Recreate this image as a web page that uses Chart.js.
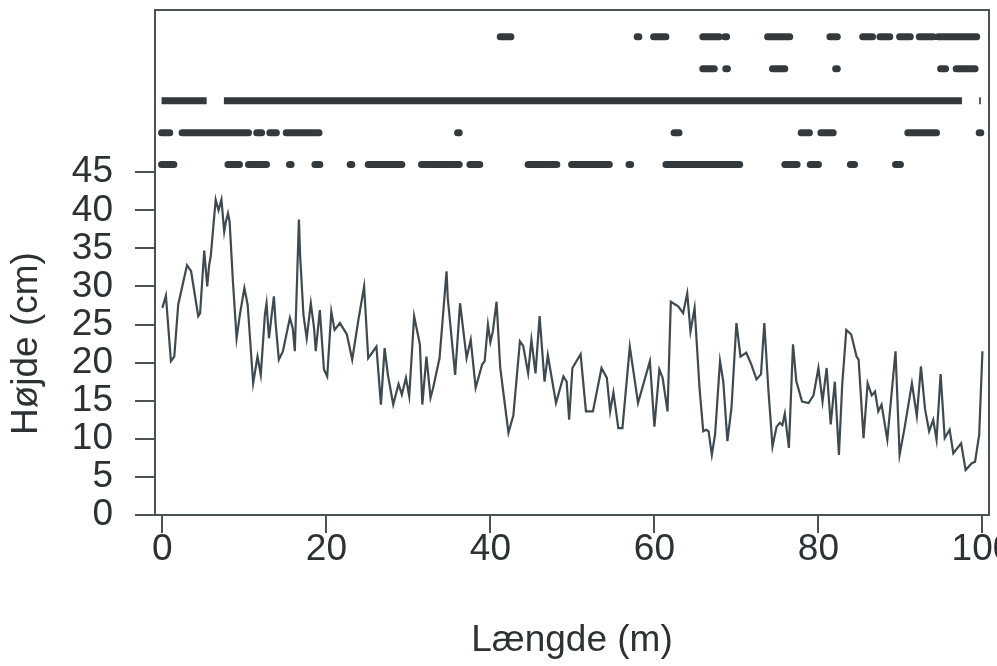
<!DOCTYPE html>
<html>
<head>
<meta charset="utf-8">
<script src="https://cdn.jsdelivr.net/npm/chart.js@4.4.1/dist/chart.umd.min.js"></script>
<style>
  html, body { margin: 0; padding: 0; background: #fff; }
  canvas { display: block; }
</style>
</head>
<body>
<canvas id="profile" width="997" height="666"></canvas>
<script>
// length along the transect (m) and measured height (cm)
const distance = [
  0.0, 0.43, 1.04, 1.45, 1.93, 3.0, 3.5, 4.37, 4.6, 5.1, 5.47, 5.7, 5.9, 6.5, 6.85, 7.2,
  7.54, 7.74, 8.0, 8.2, 8.6, 9.05, 9.45, 10.0, 10.4, 11.07, 11.6, 12.0, 12.5, 12.7, 13.0,
  13.3, 13.6, 13.8, 14.2, 14.7, 15.55, 15.9, 16.15, 16.65, 16.8, 17.2, 17.6, 18.1, 18.5,
  18.7, 19.2, 19.7, 20.1, 20.6, 21.0, 21.65, 22.5, 23.15, 23.9, 24.6, 25.1, 25.7, 26.1,
  26.65, 27.1, 27.5, 28.15, 28.8, 29.2, 29.7, 30.1, 30.7, 31.4, 31.7, 32.2, 32.7, 33.0,
  33.8, 34.65, 34.8, 35.7, 36.3, 37.1, 37.6, 38.2, 39.0, 39.3, 39.7, 40.0, 40.3, 40.75,
  41.2, 42.2, 42.8, 43.6, 44.0, 44.6, 45.0, 45.5, 46.0, 46.6, 47.0, 48.0, 48.9, 49.3,
  49.6, 50.0, 51.0, 51.65, 52.5, 53.55, 54.2, 54.6, 55.0, 55.6, 56.1, 57.0, 58.0, 59.45,
  60.0, 60.6, 61.0, 61.6, 62.0, 62.9, 63.5, 64.0, 64.4, 64.9, 65.5, 65.95, 66.3, 66.6,
  67.0, 67.4, 68.0, 68.4, 68.9, 69.4, 70.0, 70.5, 71.2, 71.8, 72.45, 73.0, 73.4, 73.9,
  74.4, 74.9, 75.3, 75.6, 75.9, 76.4, 76.9, 77.3, 78.0, 78.8, 79.4, 80.0, 80.5, 81.0,
  81.5, 82.0, 82.5, 82.9, 83.4, 84.0, 84.65, 84.9, 85.5, 86.0, 86.5, 86.9, 87.3, 87.7,
  88.4, 89.4, 89.9, 90.5, 91.4, 92.0, 92.5, 93.0, 93.5, 94.0, 94.4, 94.9, 95.4, 96.0,
  96.45, 97.4, 97.95, 98.7, 99.1, 99.6, 100.0
];
const height = [
  27.2, 28.8, 20.2, 20.8, 27.6, 32.8, 32.0, 26.1, 26.5, 34.7, 30.0, 32.8, 34.0, 41.4, 40.0, 41.4,
  37.2, 38.5, 39.6, 38.5, 30.7, 23.2, 26.3, 29.8, 27.6, 17.3, 20.8, 18.4, 26.3, 27.8, 23.2,
  26.0, 28.7, 25.3, 20.4, 21.5, 25.9, 24.5, 21.5, 38.8, 34.0, 26.3, 23.2, 27.8, 24.5,
  21.5, 26.9, 19.1, 18.2, 26.7, 24.3, 25.2, 23.7, 20.4, 25.6, 30.0, 20.6, 21.5, 22.1,
  14.5, 21.9, 18.4, 14.5, 17.2, 15.8, 18.0, 15.6, 26.1, 22.4, 14.5, 20.8, 15.4, 16.6,
  20.6, 32.0, 28.5, 18.4, 27.8, 20.6, 23.0, 16.7, 19.8, 20.2, 25.0, 22.7, 24.1, 28.0,
  19.3, 10.8, 13.1, 22.8, 22.2, 18.6, 23.0, 18.6, 26.1, 17.5, 21.0, 14.7, 18.2, 17.5,
  12.5, 19.3, 21.1, 13.6, 13.6, 19.3, 18.0, 13.6, 16.1, 11.4, 11.4, 22.1, 14.7, 20.2,
  11.6, 19.1, 18.0, 13.6, 28.0, 27.4, 26.5, 29.1, 24.1, 27.2, 16.7, 11.0, 11.2, 11.0,
  7.9, 10.6, 20.2, 17.5, 9.7, 14.1, 25.2, 20.8, 21.3, 19.8, 17.8, 18.5, 25.2, 16.4,
  9.0, 11.6, 12.1, 11.8, 13.3, 8.8, 22.4, 17.6, 14.9, 14.7, 15.7, 19.3, 14.9, 19.3,
  11.9, 17.5, 7.9, 17.1, 24.3, 23.7, 20.8, 20.4, 10.1, 17.3, 15.7, 16.2, 13.6, 14.5,
  9.9, 21.5, 7.9, 11.4, 17.3, 13.0, 19.5, 13.9, 11.0, 12.5, 9.9, 18.5, 10.1, 11.2,
  8.1, 9.4, 5.9, 6.8, 7.0, 10.5, 21.5
];

// occurrence bands above the profile: [from, to] in m
const bandLevels = [46, 50.2, 54.4, 58.6, 62.8];
const bandSquares = [
  [-0.1, 1.4], [8.0, 9.4], [10.5, 12.7], [15.5, 15.7], [18.6, 19.2], [22.9, 23.1],
  [25.1, 29.2], [31.6, 36.2], [37.5, 38.7], [44.6, 48.1], [49.9, 54.5], [56.9, 57.1],
  [61.4, 70.4], [75.9, 77.4], [79.0, 80.0], [83.9, 84.4], [89.4, 90.0]
];
const bandTriangles = [
  [-0.1, 0.9], [2.4, 10.5], [11.5, 12.1], [13.1, 13.9], [15.1, 19.1], [36.0, 36.2],
  [62.4, 63.0], [77.9, 78.9], [80.3, 81.8], [90.9, 94.4], [99.6, 99.8]
];
const bandDown = [[-0.1, 5.4], [7.5, 97.5], [99.6, 99.8]];
const bandDiamonds = [
  [65.9, 67.3], [68.7, 68.9], [74.4, 75.9], [82.1, 82.3], [94.9, 95.5], [96.8, 99.1]
];
const bandCircles = [
  [41.2, 42.5], [57.9, 58.1], [59.9, 61.4], [65.9, 67.9], [68.6, 68.8], [73.8, 76.5],
  [81.4, 82.3], [85.4, 86.6], [87.5, 88.7], [89.9, 91.2], [92.3, 94.0], [94.6, 99.3]
];

const xTicks = [0, 20, 40, 60, 80, 100];
const yTicks = [0, 5, 10, 15, 20, 25, 30, 35, 40, 45];

const ink = '#2c3134';
const FONT = '"Liberation Sans", Arial, sans-serif';
Chart.defaults.font.family = FONT;
Chart.defaults.color = ink;

let chartAreaBorder = {
  id: 'chartAreaBorder',
  beforeDatasetsDraw(chart, args, options) {
    const { ctx, chartArea: { left, top, width, height } } = chart;
    ctx.save();
    ctx.strokeStyle = options.borderColor;
    ctx.lineWidth = options.borderWidth;
    ctx.strokeRect(left, top, width, height);
    ctx.restore();
  }
};

const bandData = (spans, level) => spans.flatMap(([a, b]) => [
  { x: a, y: level }, { x: b, y: level }, { x: b, y: null }
]);
const band = (spans, level, cap) => ({
  data: bandData(spans, level),
  yAxisID: 'y2',
  showLine: true,
  borderColor: '#33393d',
  borderWidth: 7,
  borderCapStyle: cap,
  pointRadius: 0,
  spanGaps: false
});

new Chart(document.getElementById('profile'), {
  type: 'scatter',
  plugins: [chartAreaBorder],
  data: {
    datasets: [
      {
        data: distance.map((d, i) => ({ x: d, y: height[i] })),
        showLine: true,
        borderColor: '#3e4950',
        borderWidth: 2.2,
        pointRadius: 0
      },
      band(bandSquares, bandLevels[0], 'round'),
      band(bandTriangles, bandLevels[1], 'round'),
      band(bandDown, bandLevels[2], 'butt'),
      band(bandDiamonds, bandLevels[3], 'round'),
      band(bandCircles, bandLevels[4], 'round')
    ]
  },
  options: {
    responsive: false,
    animation: false,
    layout: { padding: { top: 10, right: 8, left: 0, bottom: 0 } },
    plugins: {
      legend: { display: false },
      tooltip: { enabled: false },
      chartAreaBorder: { borderColor: '#4b5255', borderWidth: 2 }
    },
    scales: {
      x: {
        type: 'linear',
        position: 'bottom',
        min: -0.9,
        max: 100.8,
        afterBuildTicks: s => { s.ticks = xTicks.map(v => ({ value: v })); },
        afterFit: s => { s.height = 151; s.paddingLeft = 0; s.paddingRight = 0; },
        border: { display: false },
        grid: { drawOnChartArea: false, tickLength: 18, color: '#4b5255', lineWidth: 2 },
        ticks: { autoSkip: false, maxRotation: 0, padding: -5, font: { size: 37 }, color: ink },
        title: { display: true, text: 'Længde (m)', font: { size: 37 }, color: ink, padding: { top: 0, bottom: 3 } }
      },
      y: {
        type: 'linear',
        position: 'left',
        stack: 'side',
        stackWeight: 45,
        min: 0,
        max: 45,
        afterBuildTicks: s => { s.ticks = yTicks.map(v => ({ value: v })); },
        afterFit: s => { s.width = 155; s.paddingTop = 0; s.paddingBottom = 0; },
        border: { display: false },
        grid: { drawOnChartArea: false, tickLength: 20, color: '#4b5255', lineWidth: 2 },
        ticks: { autoSkip: false, padding: 22, font: { size: 37 }, color: ink },
        title: { display: true, text: 'Højde (cm)', font: { size: 37 }, color: ink, padding: { top: 5, bottom: 0 } }
      },
      y2: {
        type: 'linear',
        position: 'left',
        stack: 'side',
        stackWeight: 21.3,
        min: 45,
        max: 66.3,
        afterFit: s => { s.width = 155; s.paddingTop = 0; s.paddingBottom = 0; },
        border: { display: false },
        grid: { display: false },
        ticks: { display: false }
      }
    }
  }
});
</script>
</body>
</html>
